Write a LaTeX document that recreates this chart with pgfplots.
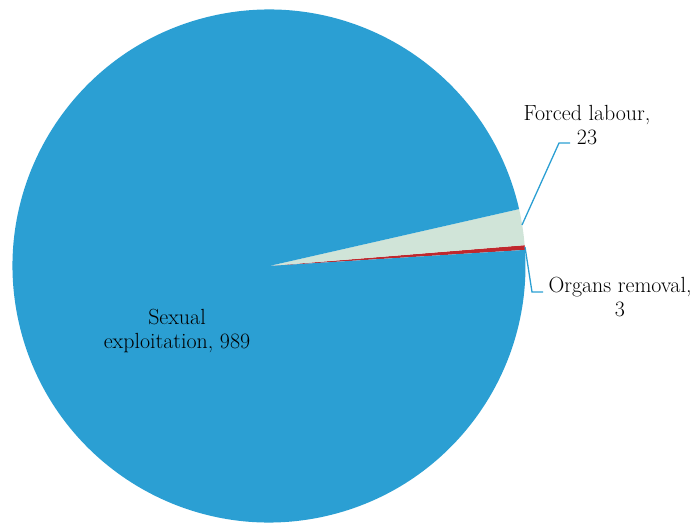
\documentclass[border=0pt]{standalone}
\usepackage{pgfplots}
\pgfplotsset{compat=1.18}
\usepackage{pgfplotstable}

\definecolor{sexblue}{RGB}{43,159,211}
\definecolor{forcegreen}{RGB}{208,228,216}
\definecolor{organred}{RGB}{192,39,45}

\pgfplotstableread{
label value
Sexual 989
Forced 23
Organs 3
}\piedata

\pgfplotstablegetelem{0}{value}\of\piedata \let\vSex\pgfplotsretval
\pgfplotstablegetelem{1}{value}\of\piedata \let\vForce\pgfplotsretval
\pgfplotstablegetelem{2}{value}\of\piedata \let\vOrg\pgfplotsretval
\pgfmathsetmacro\total{\vSex+\vForce+\vOrg}
% slices run counter-clockwise from the red one
\pgfmathsetmacro\aA{3.6}
\pgfmathsetmacro\aB{\aA+360*(\vOrg/\total)}
\pgfmathsetmacro\aC{\aB+360*(\vForce/\total)}
\pgfmathsetmacro\aD{\aC+360*(\vSex/\total)}
\def\R{256.5bp}
\tikzset{lbl/.style={font=\fontsize{22}{23.5}\selectfont, align=center, text=black, inner sep=0pt}}

\begin{document}
\begin{tikzpicture}
\begin{axis}[
    width=694bp, height=523bp,
    scale only axis,
    xmin=0, xmax=694, ymin=0, ymax=523,
    axis lines=none, ticks=none,
    clip=false,
]
\fill[organred] (axis cs:269,257) -- ++(\aA:\R) arc[start angle=\aA, end angle=\aB, radius=\R] -- cycle;
\fill[forcegreen] (axis cs:269,257) -- ++(\aB:\R) arc[start angle=\aB, end angle=\aC, radius=\R] -- cycle;
\fill[sexblue] (axis cs:269,257) -- ++(\aC:\R) arc[start angle=\aC, end angle=\aD, radius=\R] -- cycle;

\draw[sexblue, line width=1.3pt] (axis cs:522,298) -- (axis cs:559,380) -- (axis cs:570,380);
\draw[sexblue, line width=1.3pt] (axis cs:525,276) -- (axis cs:532,231) -- (axis cs:543,231);

\node[lbl] at (axis cs:587,398) {Forced labour,\\\vForce};
\node[lbl] at (axis cs:620,226) {Organs removal,\\\vOrg};
\node[lbl] at (axis cs:177,192) {Sexual\\exploitation, \vSex};
\end{axis}
\pgfresetboundingbox
\useasboundingbox (current axis.south west) rectangle (current axis.north east);
\end{tikzpicture}
\end{document}
